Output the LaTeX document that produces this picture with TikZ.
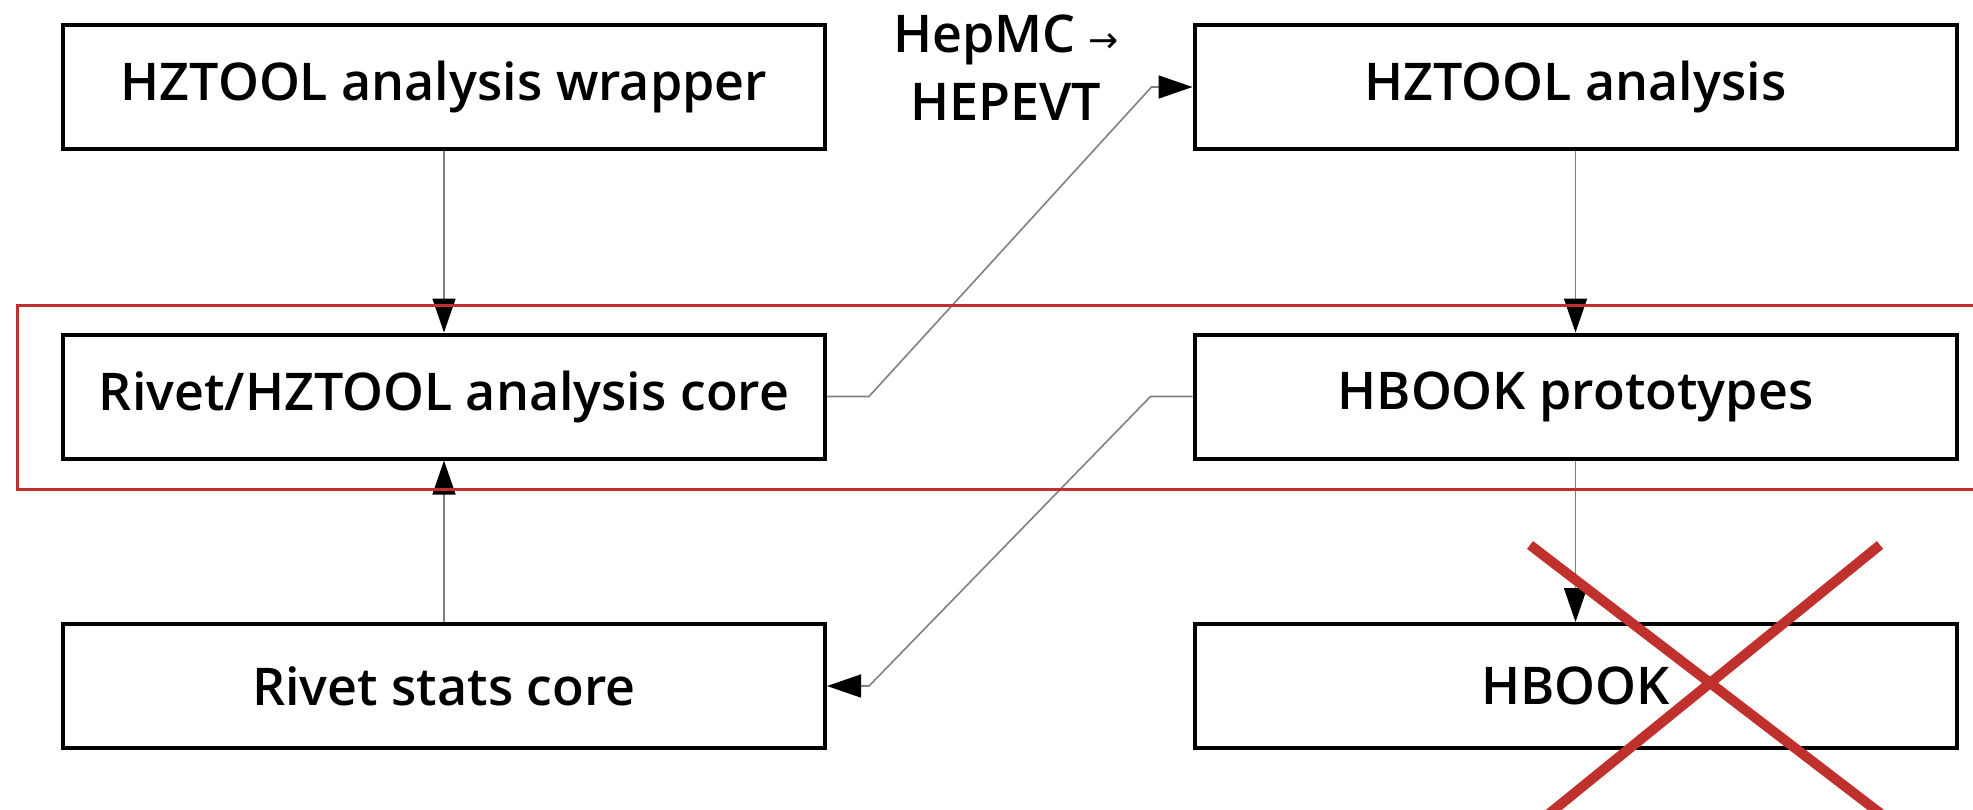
\documentclass[tikz,border=0pt]{standalone}
\usepackage{fontspec}
\setmainfont{Open Sans Semibold}
\newfontfamily\arrowfont{DejaVu Sans}
\usetikzlibrary{arrows.meta}
\definecolor{crossred}{HTML}{C0302C}

\begin{document}
\begin{tikzpicture}[x=0.5pt,y=-0.5pt,
  box/.style={draw,line width=2pt,minimum width=381pt,minimum height=62pt,
    font=\fontsize{26}{34}\selectfont},
  link/.style={draw=gray,line width=0.8pt,-{Triangle[length=17pt,width=11.5pt,black]}},
  redline/.style={draw=crossred,line width=1.5pt}]
\useasboundingbox (0,0) rectangle (1973,809);
\clip (0,0) rectangle (1973,809);

\node[box] (wrapper) at (444,87) {HZTOOL analysis wrapper};
\node[box] (hzana) at (1575.5,87) {HZTOOL analysis};
\node[box] (core) at (444,396.5) {Rivet/HZTOOL analysis core};
\node[box] (proto) at (1575.5,396.5) {HBOOK prototypes};
\node[box] (stats) at (444,686) {Rivet stats core};
\node[box] (hbook) at (1575.5,686) {HBOOK};

\node[align=center,font=\fontsize{26}{34}\selectfont] (conv) at (1006,68)
  {HepMC {\arrowfont\fontsize{18}{20}\selectfont →}\\HEPEVT};

\draw[link] (wrapper) -- (core);
\draw[link] (hzana) -- (proto);
\draw[link] (stats) -- (core);
\draw[link] (proto) -- (hbook);
\draw[link] (core.east) -- ++(42,0) -- ([xshift=-20.5pt]hzana.west) -- (hzana.west);
\draw[link] (proto.west) -- ++(-42,0) -- ([xshift=21pt]stats.east) -- (stats.east);

% the red frame and the cross
\draw[redline] (17,305) rectangle (2000,489);
\draw[crossred,line width=5pt] (1530,545) -- (1902,830);
\draw[crossred,line width=5pt] (1880,545) -- (1529,830);
\end{tikzpicture}
\end{document}
